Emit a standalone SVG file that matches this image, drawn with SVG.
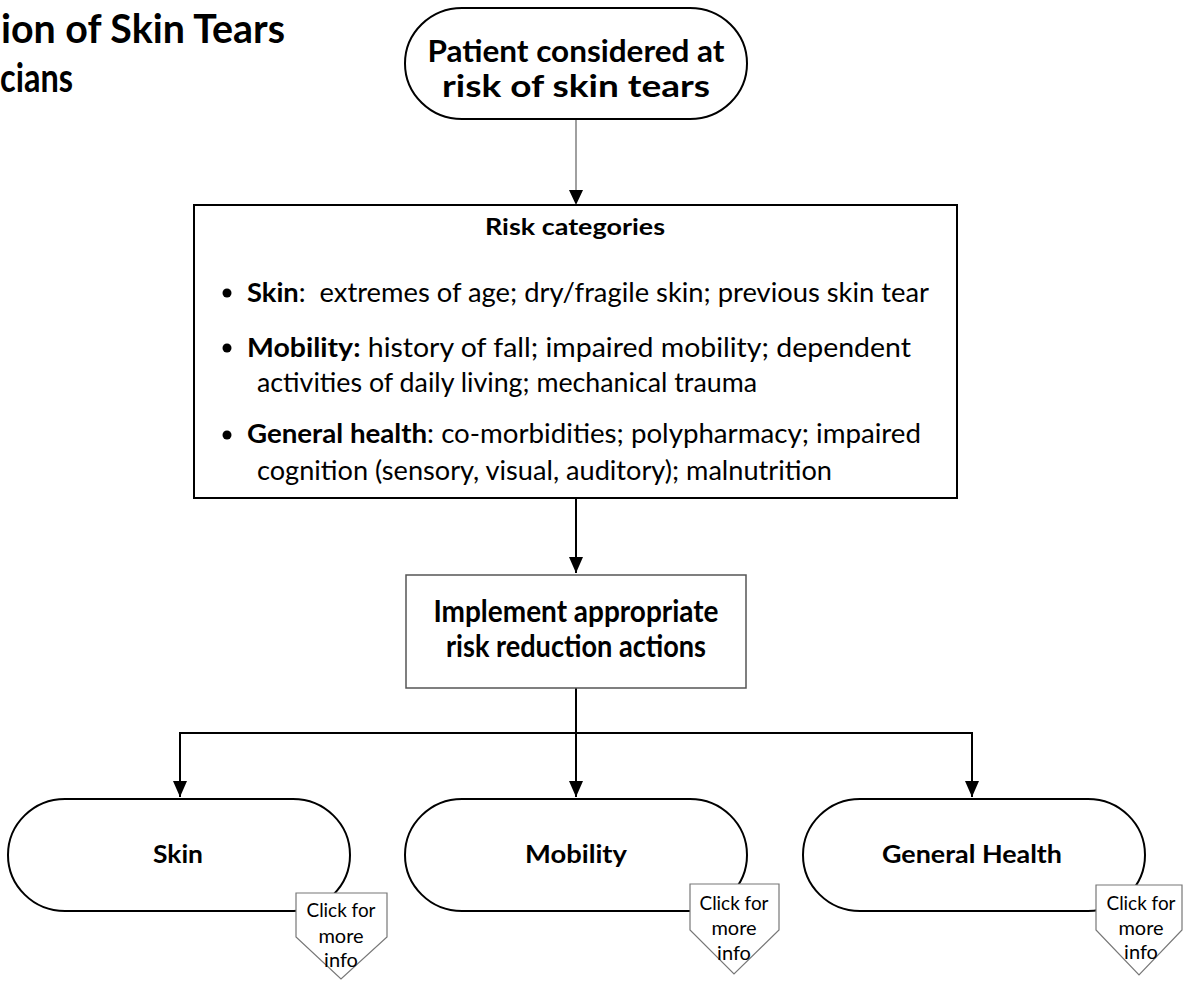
<svg xmlns="http://www.w3.org/2000/svg" width="1183" height="981" viewBox="0 0 1183 981">
<style>
text{font-family:Lato,"Carlito","Liberation Sans",sans-serif;fill:#000}
.b{font-weight:bold}
.term{fill:#fff;stroke:#000;stroke-width:2}
.box{fill:#fff;stroke:#000;stroke-width:2}
.box2{fill:#fff;stroke:#555;stroke-width:1.5}
.pent{fill:#fff;stroke:#777;stroke-width:1.2}
.ln{fill:none;stroke:#000;stroke-width:2}
.lng{fill:none;stroke:#808080;stroke-width:1.5}
.ttl{font-size:41px;font-weight:bold}
.big{font-size:31px;font-weight:bold}
.body{font-size:26.5px}
.lab{font-size:25px;font-weight:bold}
.clk{font-size:20px}
</style>
<defs>
<marker id="ah" markerUnits="userSpaceOnUse" markerWidth="16" markerHeight="16" refX="16" refY="8" orient="auto">
<path d="M0,1 L16,8 L0,15 Z" fill="#000"/>
</marker>
</defs>

<g id="title">
<text class="ttl" x="1" y="43" textLength="284" lengthAdjust="spacingAndGlyphs">ion of Skin Tears</text>
<text class="ttl" x="0" y="92" textLength="73" lengthAdjust="spacingAndGlyphs">cians</text>
</g>

<g id="connectors">
<path class="lng" d="M576,119 V192"/>
<path d="M569,190 L583,190 L576,205 Z" fill="#000"/>
<path class="ln" d="M576,498 V573" marker-end="url(#ah)"/>
<path class="ln" d="M576,688 V733 M180,733 H972"/>
<path class="ln" d="M180,732 V797" marker-end="url(#ah)"/>
<path class="ln" d="M576,733 V797" marker-end="url(#ah)"/>
<path class="ln" d="M972,732 V797" marker-end="url(#ah)"/>
</g>

<g id="start">
<path class="term" d="M462,8 H690 A57,55.5 0 0 1 690,119 H462 A57,55.5 0 0 1 462,8 Z"/>
<text class="big" x="576" y="62" text-anchor="middle" textLength="297" lengthAdjust="spacingAndGlyphs">Patient considered at</text>
<text class="big" x="576" y="97" text-anchor="middle" textLength="268" lengthAdjust="spacingAndGlyphs">risk of skin tears</text>
</g>

<g id="risk">
<rect class="box" x="194" y="205" width="763" height="293"/>
<text class="b" x="575" y="235" font-size="22.5" text-anchor="middle" textLength="180" lengthAdjust="spacingAndGlyphs">Risk categories</text>
<circle cx="227" cy="293" r="4.5"/>
<text class="body" x="247" y="302" textLength="682" lengthAdjust="spacingAndGlyphs"><tspan class="b">Skin</tspan>:&#160; extremes of age; dry/fragile skin; previous skin tear</text>
<circle cx="227" cy="348" r="4.5"/>
<text class="body" x="247" y="357" textLength="664" lengthAdjust="spacingAndGlyphs"><tspan class="b">Mobility:</tspan> history of fall; impaired mobility; dependent</text>
<text class="body" x="257" y="392" textLength="500" lengthAdjust="spacingAndGlyphs">activities of daily living; mechanical trauma</text>
<circle cx="227" cy="435" r="4.5"/>
<text class="body" x="247" y="443" textLength="674" lengthAdjust="spacingAndGlyphs"><tspan class="b">General health</tspan>: co-morbidities; polypharmacy; impaired</text>
<text class="body" x="257" y="480" textLength="575" lengthAdjust="spacingAndGlyphs">cognition (sensory, visual, auditory); malnutrition</text>
</g>

<g id="implement">
<rect class="box2" x="406" y="575" width="340" height="113"/>
<text class="big" x="576" y="622" text-anchor="middle" textLength="285" lengthAdjust="spacingAndGlyphs">Implement appropriate</text>
<text class="big" x="576" y="657" text-anchor="middle" textLength="260" lengthAdjust="spacingAndGlyphs">risk reduction actions</text>
</g>

<g id="skin">
<path class="term" d="M65,799 H293 A57,56 0 0 1 293,911 H65 A57,56 0 0 1 65,799 Z"/>
<text class="lab" x="178" y="863" text-anchor="middle" textLength="50" lengthAdjust="spacingAndGlyphs">Skin</text>
<path class="pent" d="M296,893 H387 V937 L341,979 L296,937 Z"/>
<text class="clk" x="341" y="917" text-anchor="middle" textLength="69" lengthAdjust="spacingAndGlyphs">Click for</text>
<text class="clk" x="341" y="943" text-anchor="middle">more</text>
<text class="clk" x="341" y="967" text-anchor="middle">info</text>
</g>

<g id="mobility">
<path class="term" d="M462,799 H690 A57,56 0 0 1 690,911 H462 A57,56 0 0 1 462,799 Z"/>
<text class="lab" x="576" y="863" text-anchor="middle" textLength="102" lengthAdjust="spacingAndGlyphs">Mobility</text>
<path class="pent" d="M690,884 H779 V930 L734,974 L690,930 Z"/>
<text class="clk" x="734" y="910" text-anchor="middle" textLength="69" lengthAdjust="spacingAndGlyphs">Click for</text>
<text class="clk" x="734" y="935" text-anchor="middle">more</text>
<text class="clk" x="734" y="960" text-anchor="middle">info</text>
</g>

<g id="general">
<path class="term" d="M860,799 H1088 A57,56 0 0 1 1088,911 H860 A57,56 0 0 1 860,799 Z"/>
<text class="lab" x="972" y="863" text-anchor="middle" textLength="180" lengthAdjust="spacingAndGlyphs">General Health</text>
<path class="pent" d="M1096,885 H1182 V930 L1139,975 L1096,930 Z"/>
<text class="clk" x="1141" y="910" text-anchor="middle" textLength="69" lengthAdjust="spacingAndGlyphs">Click for</text>
<text class="clk" x="1141" y="935" text-anchor="middle">more</text>
<text class="clk" x="1141" y="959" text-anchor="middle">info</text>
</g>
</svg>
